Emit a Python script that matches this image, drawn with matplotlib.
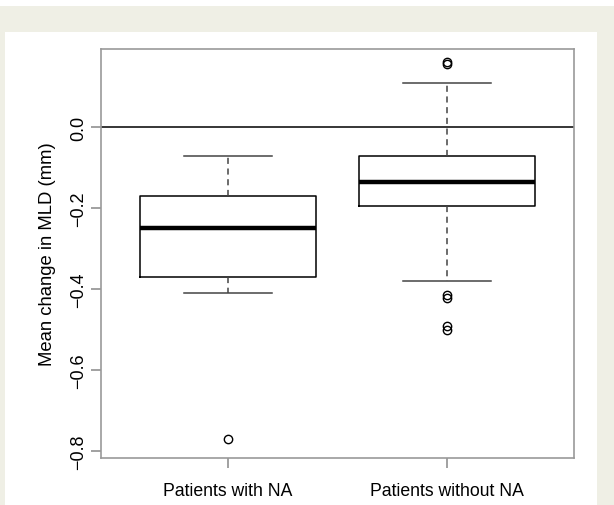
import matplotlib
matplotlib.use("Agg")
import matplotlib.pyplot as plt
from matplotlib.patches import Rectangle

# box summary (mm)
groups = ["Patients with NA", "Patients without NA"]
whisker_low = [-0.409, -0.380]
q1 = [-0.369, -0.194]
medians = [-0.248, -0.135]
q3 = [-0.170, -0.071]
whisker_high = [-0.072, 0.108]
outliers = [
    [-0.770],
    [0.157, 0.162, -0.415, -0.422, -0.492, -0.502],
]
yticks = [0.0, -0.2, -0.4, -0.6, -0.8]

plt.rcParams['font.family'] = ['Liberation Sans', 'DejaVu Sans']

W, H = 614, 506
fig = plt.figure(figsize=(W / 100, H / 100), dpi=100, facecolor='white')

# beige frame round the panel
beige = '#efefe5'
for (x0, y0, w, h) in [(0, 7, W, 26), (0, 33, 5, H - 33), (597, 33, W - 597, H - 33)]:
    fig.patches.append(Rectangle((x0 / W, 1 - (y0 + h) / H), w / W, h / H,
                                 transform=fig.transFigure, facecolor=beige,
                                 edgecolor='none', zorder=0))

ax = fig.add_axes([101 / W, 1 - 459 / H, 473 / W, (459 - 50) / H])

stats = []
for i in range(len(groups)):
    stats.append(dict(whislo=whisker_low[i], q1=q1[i], med=medians[i], q3=q3[i],
                      whishi=whisker_high[i], fliers=outliers[i], label=groups[i]))

ax.bxp(stats, positions=[1, 2], widths=0.8, showfliers=True,
       boxprops=dict(color='black', linewidth=1.1),
       medianprops=dict(color='black', linewidth=3.2),
       whiskerprops=dict(color='#444444', linewidth=1.1, linestyle=(0, (4, 3))),
       capprops=dict(color='#444444', linewidth=1.1),
       capwidths=0.4,
       flierprops=dict(marker='o', markerfacecolor='none', markeredgecolor='black',
                       markersize=6, markeredgewidth=1.0))

ax.axhline(0, color='black', linewidth=1.1)

ax.set_xlim(0.42, 2.58)
ax.set_ylim(-0.817, 0.193)
ax.set_yticks(yticks)
ax.set_yticklabels([f"{v:.1f}".replace('-', '\u2212') for v in yticks],
                   rotation=90, va='center', fontsize=13)
ax.set_xticks([1, 2])
ax.set_xticklabels(groups, fontsize=12.7)
ax.tick_params(axis='both', color='#888888', length=7, width=1.1)
ax.tick_params(axis='y', pad=3)
ax.tick_params(axis='x', pad=10)
for s in ax.spines.values():
    s.set_color('#999999')
    s.set_linewidth(1.2)

ax.set_ylabel("Mean change in MLD (mm)", fontsize=13.3, labelpad=10)

fig.savefig("out.png", dpi=100, facecolor=fig.get_facecolor())
